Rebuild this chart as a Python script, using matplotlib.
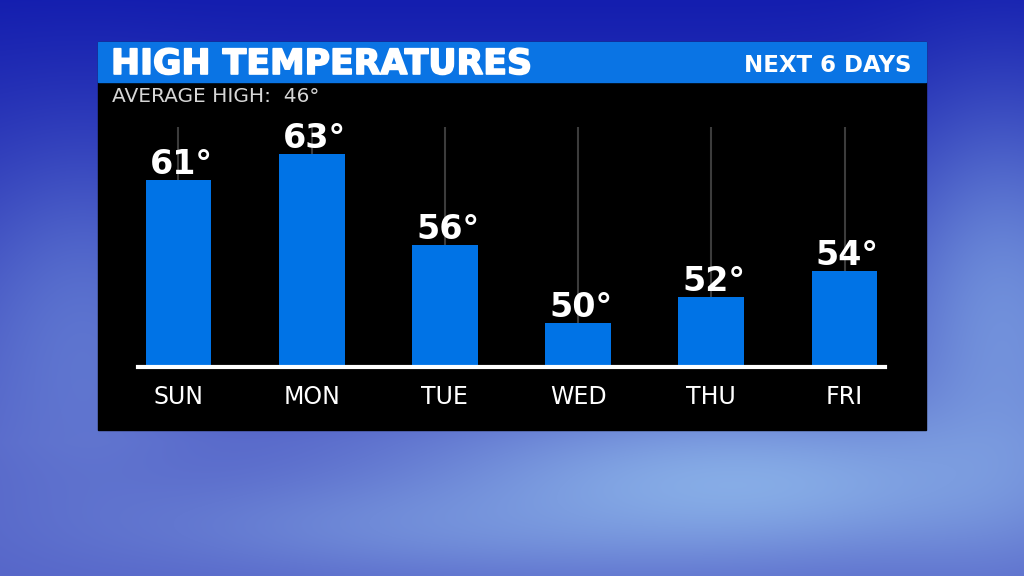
import matplotlib
matplotlib.use("Agg")
import matplotlib.pyplot as plt
import matplotlib.patheffects as pe
import numpy as np
from matplotlib.patches import Rectangle

# data
days = ["SUN", "MON", "TUE", "WED", "THU", "FRI"]
highs = [61, 63, 56, 50, 52, 54]
title = "HIGH TEMPERATURES"
subtitle = "NEXT 6 DAYS"
avg_label = "AVERAGE HIGH:  46°"

W, H = 1024, 576
BLUE = "#0a74e4"
FONT = "DejaVu Sans"


def px(x, y):
    # pixel coords (top-left origin) -> figure fraction
    return x / W, 1 - y / H


fig = plt.figure(figsize=(W / 100, H / 100), dpi=100)

# sky background: vertical gradient plus a few soft light patches
yy, xx = np.mgrid[0:1:H * 1j, 0:1:W * 1j]
top = np.array([20, 30, 175]) / 255
bot = np.array([85, 100, 200]) / 255
img = top + (bot - top) * np.clip(yy * 1.3, 0, 1)[..., None]
blobs = [
    (0.72, 0.84, 0.22, 0.10, 0.75),   # light band under the panel
    (0.98, 0.55, 0.08, 0.25, 0.55),   # right edge
    (0.08, 0.55, 0.08, 0.20, 0.30),   # left edge
    (0.40, 0.92, 0.20, 0.06, 0.30),
]
light = np.array([150, 195, 240]) / 255
for cx, cy, rx, ry, a in blobs:
    g = a * np.exp(-(((xx - cx) / rx) ** 2 + ((yy - cy) / ry) ** 2) / 2)
    img = img * (1 - g[..., None]) + light * g[..., None]
img = np.clip(img, 0, 1)
bg = fig.add_axes([0, 0, 1, 1])
bg.imshow(img, extent=[0, 1, 0, 1], aspect="auto", zorder=0)
bg.set_xlim(0, 1)
bg.set_ylim(0, 1)
bg.axis("off")

# black panel and title bar
x0, y0 = px(98, 430)
x1, y1 = px(926, 42)
bg.add_patch(Rectangle((x0, y0), x1 - x0, y1 - y0, color="black", zorder=1))
_, yb = px(0, 82)
bg.add_patch(Rectangle((x0, yb), x1 - x0, y1 - yb, color=BLUE, zorder=2))

heavy = [pe.withStroke(linewidth=1.2, foreground="white")]
fig.text(*px(111, 74), title, color="white", fontsize=25, fontweight="bold",
         family=FONT, va="baseline", ha="left", path_effects=heavy)
fig.text(*px(912, 72), subtitle, color="white", fontsize=16.5, fontweight="bold",
         family=FONT, va="baseline", ha="right")
fig.text(*px(112, 102), avg_label, color="#d6d6d6", fontsize=14.5,
         family=FONT, va="baseline", ha="left")

# chart axes
left, bottom = px(138, 367)
right, topy = px(885, 127)
ax = fig.add_axes([left, bottom, right - left, topy - bottom])
ax.patch.set_visible(False)
ymin, ymax = 46.6, 65.06
x = np.arange(len(days))
ax.vlines(x, ymin, ymax, color="#3c3c3c", lw=1.5, zorder=1)
ax.bar(x, highs, bottom=0, width=0.495, color="#0073e6", zorder=2)
ax.axhline(ymin, color="white", lw=3, zorder=3, clip_on=False)
for xi, v in zip(x, highs):
    ax.annotate(f"{v}°", (xi, v), xytext=(2, 4.5), textcoords="offset points",
                ha="center", va="baseline", color="white", fontsize=24,
                fontweight="bold", family=FONT, zorder=4)
ax.set_xlim(-0.304, 5.304)
ax.set_ylim(ymin, ymax)
ax.set_xticks(x)
ax.set_xticklabels(days, color="white", fontsize=17, family=FONT)
ax.tick_params(axis="x", length=0, pad=13)
ax.set_yticks([])
for s in ax.spines.values():
    s.set_visible(False)

fig.savefig("out.png", dpi=100)
